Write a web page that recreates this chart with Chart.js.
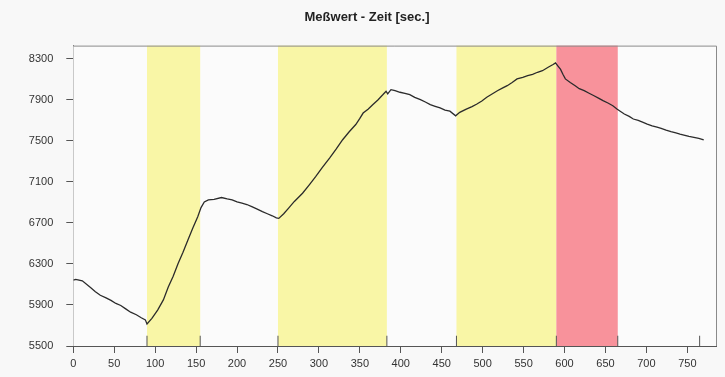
<!DOCTYPE html>
<html><head><meta charset="utf-8">
<script src="https://cdn.jsdelivr.net/npm/chart.js@4"></script>
<style>
html,body{margin:0;padding:0;background:#f8f8f8;}
#wrap{width:725px;height:377px;position:relative;}
</style>
</head><body>
<div id="wrap"><canvas id="c" width="725" height="377"></canvas></div>
<script>
// ---- data ----
const timeSec = [0,3,11,21,27,33,40,46,52,58,64,70,77,83,88,90,96,103,110,116,122,128,134,140,146,152,156,160,165,172,181,188,194,200,206,212,218,224,231,237,243,248,251,257,263,270,280,288,296,304,313,321,329,337,345,350,354,360,366,372,378,382,384,388,393,399,405,411,417,424,430,436,442,448,454,460,467,472,480,487,493,499,505,511,518,524,530,536,542,549,555,561,567,573,580,586,589,592,595,598,601,607,613,618,624,630,636,642,647,653,659,664,668,673,679,684,690,696,701,707,713,718,724,730,736,741,747,752,758,764,770];
const messwert = [6142,6150,6136,6070,6030,5995,5970,5945,5915,5895,5862,5830,5805,5775,5755,5715,5770,5850,5950,6075,6180,6305,6415,6535,6650,6760,6850,6905,6925,6930,6948,6935,6925,6905,6893,6880,6860,6838,6811,6790,6770,6750,6745,6790,6845,6910,6990,7070,7152,7240,7333,7420,7512,7590,7660,7720,7772,7810,7855,7900,7950,7985,7960,8000,7990,7975,7965,7952,7925,7903,7880,7855,7838,7822,7800,7790,7745,7779,7811,7835,7860,7890,7926,7955,7990,8015,8039,8070,8105,8120,8137,8150,8170,8185,8219,8245,8261,8230,8200,8150,8105,8070,8039,8010,7990,7965,7941,7915,7893,7870,7844,7811,7790,7763,7740,7714,7700,7681,7665,7648,7635,7623,7605,7590,7578,7567,7555,7544,7535,7525,7511];
const xTickValues = [0,50,100,150,200,250,300,350,400,450,500,550,600,650,700,750];
const yTickValues = [5500,5900,6300,6700,7100,7500,7900,8300];
const bandStart = [90,250,468,590];
const bandEnd   = [155,383,590,665];
const bandKind  = ['y','y','y','r'];
const markerTimes = [90,155,250,383,468,590,665,765];
const titleText = 'Meßwert - Zeit [sec.]';

// ---- ranges / styles ----
const X_MIN = 0, X_MAX = 785, Y_MIN = 5500, Y_MAX = 8430, MARK_H = 100;
const bandColors = {y:'#f9f6a6', r:'#f8929b'};

const lineData = timeSec.map((t,i)=>({x:t,y:messwert[i]}));
const markData = [];
markerTimes.forEach(t=>{ markData.push({x:t,y:Y_MIN},{x:t,y:Y_MIN+MARK_H},{x:t,y:null}); });

const bandsPlugin = {
  id:'bands',
  beforeDatasetsDraw(chart){
    const {ctx, chartArea:a, scales:{x,y}} = chart;
    ctx.save();
    ctx.fillStyle = '#fbfbfb';
    ctx.fillRect(a.left,a.top,a.right-a.left,a.bottom-a.top);
    bandStart.forEach((s,i)=>{
      const x0 = x.getPixelForValue(s), x1 = x.getPixelForValue(bandEnd[i]);
      ctx.fillStyle = bandColors[bandKind[i]];
      ctx.fillRect(x0,a.top,x1-x0,a.bottom-a.top);
    });
    ctx.restore();
  },
  afterDraw(chart){
    const {ctx, chartArea:a} = chart;
    ctx.save();
    ctx.strokeStyle = '#8a8a8a';
    ctx.lineWidth = 1;
    ctx.beginPath();
    ctx.moveTo(a.left, a.top+0.5); ctx.lineTo(a.right+0.5, a.top+0.5); ctx.lineTo(a.right+0.5, a.bottom);
    ctx.stroke();
    ctx.restore();
  }
};

new Chart(document.getElementById('c'), {
  type:'line',
  data:{datasets:[
    {data:lineData, borderColor:'#2b2b2b', borderWidth:1.3, pointRadius:0, tension:0, fill:false},
    {data:markData, borderColor:'#555', borderWidth:1, pointRadius:0, spanGaps:false, fill:false, clip:false}
  ]},
  options:{
    responsive:false, animation:false, devicePixelRatio:1,
    layout:{padding:{left:18,right:9,top:0,bottom:0}},
    plugins:{
      legend:{display:false}, tooltip:{enabled:false},
      title:{display:true, text:titleText, color:'#222',
        font:{family:'Liberation Sans, Arial, sans-serif', size:13, weight:'bold', lineHeight:1.2},
        padding:{top:10,bottom:20}}
    },
    scales:{
      x:{type:'linear', min:X_MIN, max:X_MAX,
        afterBuildTicks(s){ s.ticks = xTickValues.map(v=>({value:v})); },
        afterFit(s){ s.height = 31; },
        grid:{display:true, drawOnChartArea:false, drawTicks:true, tickLength:7, color:'#555'},
        border:{display:true, color:'#555', width:1},
        ticks:{color:'#333', padding:4, maxRotation:0, autoSkip:false,
          callback:v=>String(v),
          font:{family:'Liberation Sans, Arial, sans-serif', size:11}}
      },
      y:{type:'linear', min:Y_MIN, max:Y_MAX,
        afterBuildTicks(s){ s.ticks = yTickValues.map(v=>({value:v})); },
        afterFit(s){ s.width = 55.3; },
        grid:{display:true, drawOnChartArea:false, drawTicks:true, tickLength:7, color:'#555'},
        border:{display:true, color:'#555', width:1},
        ticks:{color:'#333', padding:13, autoSkip:false,
          callback:v=>String(v),
          font:{family:'Liberation Sans, Arial, sans-serif', size:11}}
      }
    }
  },
  plugins:[bandsPlugin]
});
</script>
</body></html>
